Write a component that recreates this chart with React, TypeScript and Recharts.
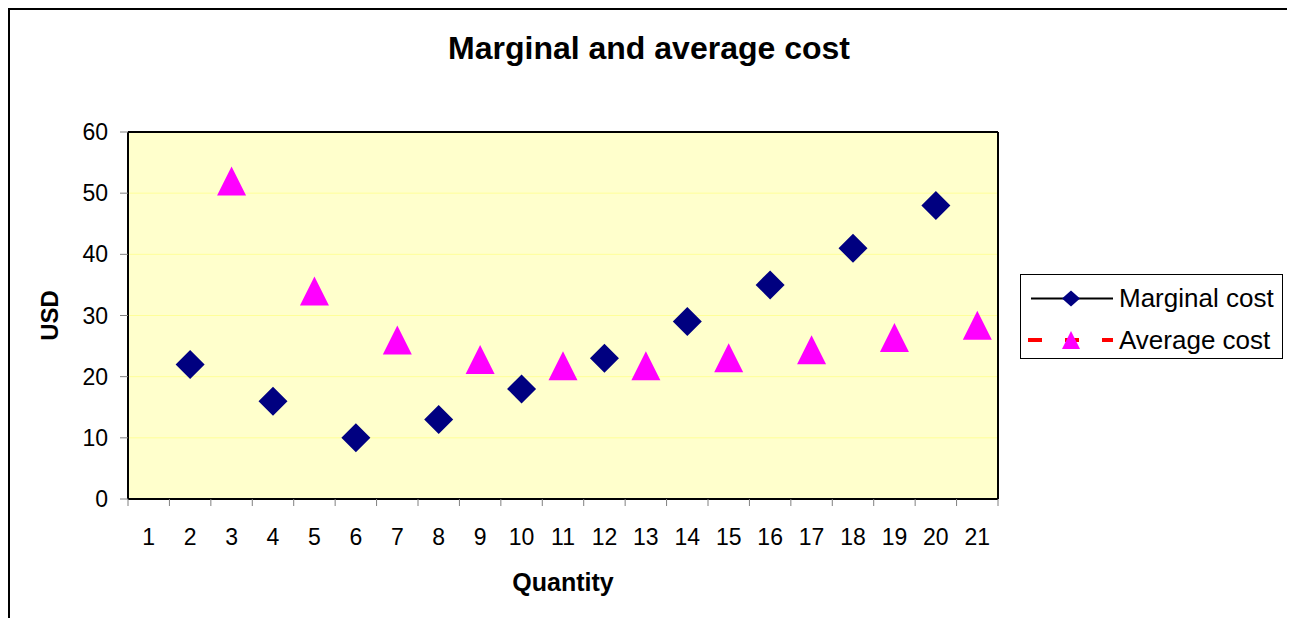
import React from 'react';
import { ComposedChart, Line, XAxis, YAxis, CartesianGrid, ReferenceLine } from 'recharts';

// quantities on the x axis
const quantity = [1, 2, 3, 4, 5, 6, 7, 8, 9, 10, 11, 12, 13, 14, 15, 16, 17, 18, 19, 20, 21];
// marginal cost sits on the even quantities, average cost on the odd ones
const marginalCost = [null, 22, null, 16, null, 10, null, 13, null, 18, null, 23, null, 29, null, 35, null, 41, null, 48, null];
const averageCost = [null, null, 52, null, 34, null, 26, null, 22.8, null, 21.8, null, 21.8, null, 23.1, null, 24.4, null, 26.4, null, 28.4];
const usdTicks = [0, 10, 20, 30, 40, 50, 60];

const data = quantity.map((q, i) => ({ q, mc: marginalCost[i], ac: averageCost[i] }));

const FONT = '"Liberation Sans", Arial, sans-serif';
const W = 1278;
const H = 608;
const PLOT_W = 870;
const HALF = PLOT_W / quantity.length / 2;

const Diamond = (props: any) => {
  const { cx, cy, value, index } = props;
  if (value == null || cx == null || cy == null) return <g key={`mc-${index}`} />;
  const r = 14.5;
  return (
    <polygon
      key={`mc-${index}`}
      points={`${cx},${cy - r} ${cx + r},${cy} ${cx},${cy + r} ${cx - r},${cy}`}
      fill="#000080"
    />
  );
};

const Triangle = (props: any) => {
  const { cx, cy, value, index } = props;
  if (value == null || cx == null || cy == null) return <g key={`ac-${index}`} />;
  const r = 14.5;
  return (
    <polygon
      key={`ac-${index}`}
      points={`${cx},${cy - r} ${cx + r},${cy + r} ${cx - r},${cy + r}`}
      fill="#FF00FF"
    />
  );
};

const XTick = (props: any) => {
  const { x, y, payload } = props;
  const last = payload.value === quantity[quantity.length - 1];
  return (
    <g>
      <line x1={x - HALF} x2={x - HALF} y1={y} y2={y + 7} stroke="#808080" />
      {last && <line x1={x + HALF} x2={x + HALF} y1={y} y2={y + 7} stroke="#808080" />}
      <text x={x} y={y + 38} textAnchor="middle" dominantBaseline="central" fontSize={23} fontFamily={FONT} fill="#000">
        {payload.value}
      </text>
    </g>
  );
};

const YTitle = (props: any) => {
  const { viewBox } = props;
  const cx = viewBox.x - 19;
  const cy = viewBox.y + viewBox.height / 2;
  return (
    <text x={cx} y={cy} transform={`rotate(-90, ${cx}, ${cy})`} textAnchor="middle" dominantBaseline="central"
      fontSize={24} fontWeight="bold" fontFamily={FONT} fill="#000">
      USD
    </text>
  );
};

const XTitle = (props: any) => {
  const { viewBox } = props;
  return (
    <text x={viewBox.x + viewBox.width / 2} y={viewBox.y + 83} textAnchor="middle" dominantBaseline="central"
      fontSize={25} fontWeight="bold" fontFamily={FONT} fill="#000">
      Quantity
    </text>
  );
};

export default function App() {
  return (
    <div style={{ position: 'relative', width: W, height: H, border: '2px solid #000', borderBottom: 'none', background: '#fff', fontFamily: FONT }}>
      <div style={{ position: 'absolute', left: 0, top: 21, width: W, textAlign: 'center', fontSize: 32, fontWeight: 'bold', lineHeight: '34px' }}>
        Marginal and average cost
      </div>
      <ComposedChart width={W} height={H} data={data} margin={{ top: 122, right: 290, bottom: 89, left: 58 }}>
        <CartesianGrid vertical={false} fill="#FFFFCC" stroke="#FFFF99" strokeWidth={1} />
        <XAxis
          type="number"
          dataKey="q"
          domain={[0.5, 21.5]}
          allowDataOverflow
          ticks={quantity}
          height={30}
          tickLine={false}
          tickSize={0}
          tickMargin={0}
          axisLine={{ stroke: '#000', strokeWidth: 2 }}
          tick={<XTick />}
          interval={0}
          label={<XTitle />}
        />
        <YAxis
          domain={[0, 60]}
          allowDataOverflow
          ticks={usdTicks}
          width={60}
          tickSize={8}
          tickMargin={12}
          tickLine={{ stroke: '#808080' }}
          axisLine={{ stroke: '#000', strokeWidth: 2 }}
          tick={{ fontSize: 23, fill: '#000', fontFamily: FONT }}
          interval={0}
          label={<YTitle />}
        />
        <ReferenceLine y={60} stroke="#000" strokeWidth={2} />
        <ReferenceLine x={21.5} stroke="#000" strokeWidth={2} />
        <Line dataKey="mc" name="Marginal cost" stroke="none" dot={Diamond} activeDot={false} isAnimationActive={false} />
        <Line dataKey="ac" name="Average cost" stroke="none" dot={Triangle} activeDot={false} isAnimationActive={false} />
      </ComposedChart>
      <div style={{ position: 'absolute', left: 1010, top: 264, width: 261, height: 83, border: '1px solid #000', background: '#fff' }}>
        <svg width={100} height={83} style={{ position: 'absolute', left: 0, top: 0 }}>
          <line x1={10} x2={92} y1={23.5} y2={23.5} stroke="#000" strokeWidth={2} />
          <polygon points="50,15.5 59,23.5 50,31.5 41,23.5" fill="#000080" />
          <line x1={7} x2={92} y1={65} y2={65} stroke="#FF0000" strokeWidth={4} strokeDasharray="14 23" />
          <polygon points="50,56 59,74 41,74" fill="#FF00FF" />
        </svg>
        <div style={{ position: 'absolute', left: 98, top: 8, fontSize: 26, lineHeight: '30px' }}>Marginal cost</div>
        <div style={{ position: 'absolute', left: 98, top: 50, fontSize: 26, lineHeight: '30px' }}>Average cost</div>
      </div>
    </div>
  );
}
